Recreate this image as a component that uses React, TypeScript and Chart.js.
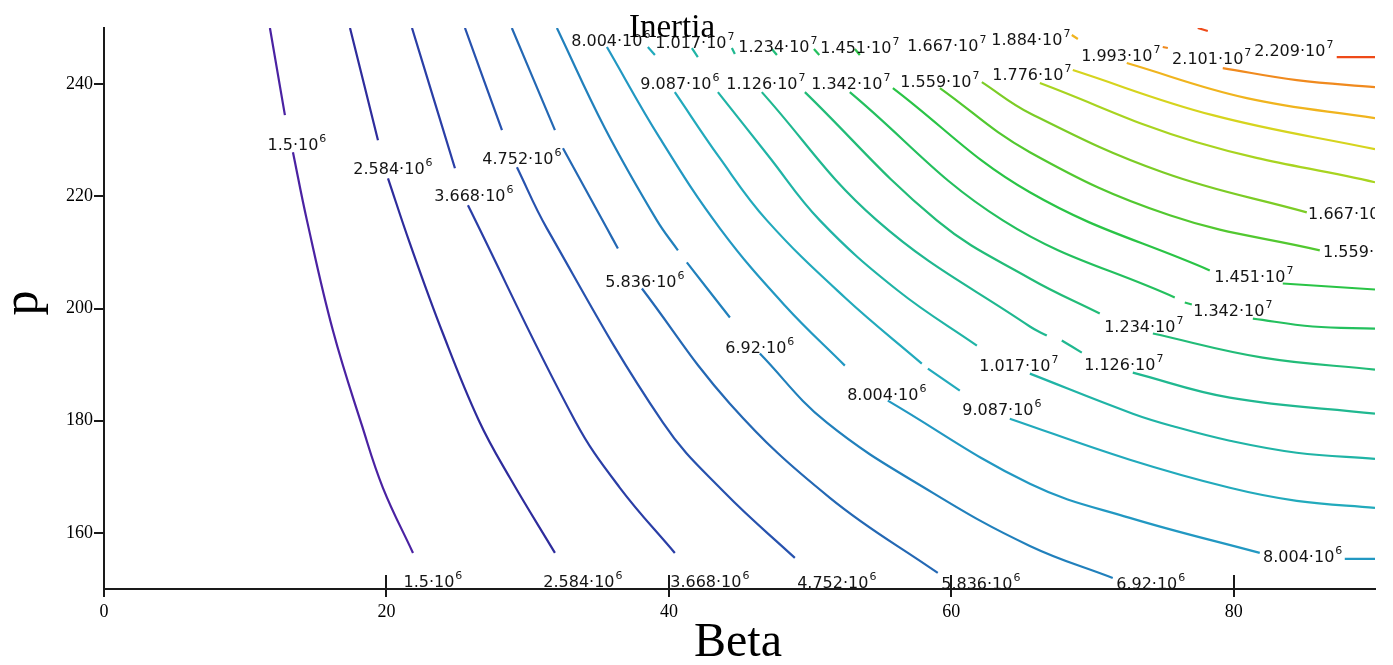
import React, { useEffect, useRef } from 'react';
import { Chart, registerables } from 'chart.js';

Chart.register(...registerables);

// Contour levels of Inertia
const LEVEL_MANTISSA = ['1.5', '2.584', '3.668', '4.752', '5.836', '6.92', '8.004', '9.087', '1.017', '1.126', '1.234', '1.342', '1.451', '1.559', '1.667', '1.776', '1.884', '1.993', '2.101', '2.209'];
const LEVEL_EXPONENT = ['6', '6', '6', '6', '6', '6', '6', '6', '7', '7', '7', '7', '7', '7', '7', '7', '7', '7', '7', '7'];
const LEVEL_COLORS = ['#4a22a2', '#2e2c9c', '#2a3ea6', '#2752ae', '#2468b4', '#2180bc', '#2298c2', '#22aabc', '#20b4a6', '#20b890', '#22bc78', '#24c05e', '#2ac446', '#52c830', '#7ccc26', '#a8d420', '#d6d41e', '#f0b41e', '#f08a1e', '#ee4a18'];

const X_TICKS = [0, 20, 40, 60, 80];
const Y_TICKS = [160, 180, 200, 220, 240];

// Contour lines: [Beta, p] points, null = break in the line
const C1 = [[11.75, 250], [12.81, 234.46], null, [13.38, 227.86], [14.37, 215.71], [16.21, 196.07], [18.27, 179.11], [19.75, 168.04], [21.88, 156.43]];
const C2 = [[17.42, 250], [19.4, 230.0], null, [20.11, 223.21], [21.66, 211.61], [24.0, 195.54], [26.55, 180.0], [28.74, 169.82], [31.93, 156.43]];
const C3 = [[21.81, 250], [24.85, 225.0], null, [25.77, 218.39], [33.35, 180.0], [36.53, 168.04], [40.42, 156.43]];
const C4 = [[25.56, 250], [28.18, 231.79], null, [29.24, 225.18], [31.36, 214.29], [39.58, 179.64], [43.96, 167.14], [48.92, 155.54]];
const C5 = [[28.88, 250], [31.93, 231.79], null, [32.5, 228.57], [35.61, 214.29], [36.39, 210.71], null, [38.09, 203.57], [44.32, 183.04], [51.4, 166.25], [59.04, 152.86]];
const C6 = [[32.07, 250], [35.47, 232.14], [39.15, 215.71], [40.64, 210.36], null, [41.27, 208.21], [44.32, 198.39], null, [46.44, 191.96], [51.19, 179.64], [58.69, 167.14], [65.56, 157.68], [71.43, 151.96]];
const C7 = [[35.61, 246.61], [39.36, 230.36], [43.61, 214.29], [48.21, 200.54], [52.46, 189.82], null, [55.5, 183.57], [65.56, 168.75], [72.64, 162.68], [81.84, 156.43], null, [87.86, 155.36], [90, 155.36]];
const C8 = [[38.51, 246.61], [39.01, 245.18], null, [40.42, 238.57], [43.61, 226.79], [46.94, 215.71], [52.46, 201.96], [57.91, 190.18], null, [58.34, 189.29], [60.6, 185.36], null, [64.14, 180.36], [72.64, 173.04], [79.72, 168.04], [84.46, 165.71], [90, 164.46]];
const C9 = [[41.63, 246.43], [42.05, 244.82], null, [43.47, 238.57], [47.01, 227.32], [50.69, 215.71], [56.21, 203.21], [61.81, 193.39], null, [65.56, 188.39], [72.85, 181.25], [75.82, 178.93], [79.72, 176.43], [84.46, 174.29], [90, 173.21]];
const C10 = [[44.46, 246.43], [44.67, 245.36], null, [46.58, 238.57], [54.73, 215.71], [65.56, 196.79], [66.76, 195.18], null, [67.82, 194.29], [69.24, 192.14], null, [72.85, 188.57], [79.72, 184.11], [90, 181.25]];
const C11 = [[47.29, 246.25], [47.65, 245.18], null, [49.63, 238.57], [58.97, 215.71], [65.56, 205.36], [70.51, 199.11], null, [74.27, 195.54], [82.05, 191.25], [90, 189.11]];
const C12 = [[50.27, 246.25], [50.65, 245.18], null, [52.81, 238.57], [63.65, 215.71], [75.82, 201.96], null, [76.53, 201.07], [77.03, 200.71], null, [81.35, 198.21], [85.59, 196.79], [90, 196.43]];
const C13 = [[53.17, 246.25], [53.52, 245.18], null, [55.86, 239.29], [65.56, 220.71], [78.3, 206.79], null, [83.47, 204.46], [90, 203.39]];
const C14 = [[59.19, 239.29], [65.56, 227.86], [75.47, 216.61], [86.09, 210.36]];
const C15 = [[62.16, 240.36], [65.56, 234.82], [74.97, 224.29], [85.17, 217.14]];
const C16 = [[66.27, 240.18], [77.38, 229.64], [90, 222.5]];
const C17 = [[68.6, 242.5], [78.51, 234.46], [90, 228.39]];
const C18 = [[68.53, 248.75], [68.96, 248.04], null, [72.42, 243.75], [80.92, 237.5], [90, 233.93]];
const C19 = [[74.97, 246.61], [75.33, 246.43], null, [79.22, 242.86], [84.46, 240.71], [90, 239.46]];
const C20 = [[77.45, 250], [78.16, 249.46], null, [87.29, 244.82], [90, 244.82]];
const CONTOURS = [C1, C2, C3, C4, C5, C6, C7, C8, C9, C10, C11, C12, C13, C14, C15, C16, C17, C18, C19, C20];

// Contour labels: level index, Beta, p (label centre)
const LABEL_LEVEL = [0, 1, 2, 3, 4, 5, 6, 7, 8, 9, 10, 11, 12, 13, 14, 0, 1, 2, 3, 4, 5, 6, 6, 8, 10, 12, 14, 16, 7, 9, 11, 13, 15, 17, 18, 19];
const LABEL_BETA = [13.66, 20.46, 26.19, 29.59, 38.3, 46.44, 55.43, 63.58, 64.78, 72.21, 73.63, 79.93, 81.42, 89.13, 88.07, 23.29, 33.91, 42.9, 51.89, 62.09, 74.12, 84.88, 35.89, 41.84, 47.72, 53.52, 59.68, 65.63, 40.78, 46.87, 52.88, 59.19, 65.7, 72.0, 78.44, 84.25];
const LABEL_P = [229.29, 225.0, 220.18, 226.79, 204.82, 193.21, 184.82, 182.14, 190.0, 190.18, 196.96, 199.82, 205.71, 210.18, 216.96, 151.43, 151.43, 151.43, 151.25, 151.07, 151.07, 155.89, 247.86, 247.5, 246.79, 246.61, 246.96, 248.04, 240.18, 240.18, 240.18, 240.54, 241.79, 245.18, 244.64, 246.07];

const TITLE = 'Inertia';
const X_TITLE = 'Beta';
const Y_TITLE = 'p';

const SERIF = '"Liberation Serif", "Times New Roman", serif';
const LABEL_FONT = '"DejaVu Sans", sans-serif';

const overlayPlugin = {
  id: 'contourOverlay',
  afterDatasetsDraw(chart: any) {
    const { ctx, chartArea, scales } = chart;
    const xs = scales.x;
    const ys = scales.y;
    ctx.save();
    ctx.beginPath();
    ctx.rect(chartArea.left, chartArea.top - 6, chartArea.right - chartArea.left, chartArea.bottom - chartArea.top + 8);
    ctx.clip();
    ctx.fillStyle = '#151515';
    ctx.textBaseline = 'alphabetic';
    ctx.textAlign = 'left';
    for (let i = 0; i < LABEL_LEVEL.length; i++) {
      const lev = LABEL_LEVEL[i];
      const px = xs.getPixelForValue(LABEL_BETA[i]);
      const py = ys.getPixelForValue(LABEL_P[i]);
      const main = LEVEL_MANTISSA[lev] + '\u00B710';
      const sup = LEVEL_EXPONENT[lev];
      ctx.font = '16px ' + LABEL_FONT;
      const wm = ctx.measureText(main).width;
      ctx.font = '11px ' + LABEL_FONT;
      const ws = ctx.measureText(sup).width;
      const left = px - (wm + ws + 1) / 2;
      ctx.font = '16px ' + LABEL_FONT;
      ctx.fillText(main, left, py + 6);
      ctx.font = '11px ' + LABEL_FONT;
      ctx.fillText(sup, left + wm + 1, py - 2);
    }
    ctx.restore();
  },
  afterDraw(chart: any) {
    const { ctx, chartArea, scales } = chart;
    const xs = scales.x;
    const ys = scales.y;
    ctx.save();
    ctx.strokeStyle = '#1a1a1a';
    ctx.lineWidth = 2;
    ctx.beginPath();
    for (const v of X_TICKS) {
      if (v === 0) continue;
      const px = Math.round(xs.getPixelForValue(v));
      ctx.moveTo(px, chartArea.bottom - 14);
      ctx.lineTo(px, chartArea.bottom + 8);
    }
    for (const v of Y_TICKS) {
      const py = Math.round(ys.getPixelForValue(v));
      ctx.moveTo(chartArea.left - 10, py);
      ctx.lineTo(chartArea.left, py);
    }
    ctx.moveTo(chartArea.left, chartArea.bottom);
    ctx.lineTo(chartArea.left, chartArea.bottom + 8);
    ctx.stroke();

    ctx.fillStyle = '#000';
    ctx.textAlign = 'center';
    ctx.textBaseline = 'alphabetic';
    ctx.font = '33px ' + SERIF;
    ctx.fillText(TITLE, 672, 37);
    ctx.font = '48px ' + SERIF;
    ctx.fillText(X_TITLE, 738, 656);
    ctx.translate(37, 303);
    ctx.rotate(-Math.PI / 2);
    ctx.font = '50px ' + SERIF;
    ctx.fillText(Y_TITLE, 0, 0);
    ctx.restore();
  },
};

export default function App() {
  const ref = useRef<HTMLCanvasElement>(null);
  useEffect(() => {
    document.body.style.margin = '0';
    const canvas = ref.current;
    if (!canvas) return;
    const datasets = CONTOURS.map((c, i) => ({
      label: LEVEL_MANTISSA[i] + '\u00B710^' + LEVEL_EXPONENT[i],
      data: c.map((pt) => (pt ? { x: pt[0], y: pt[1] } : { x: null, y: null })),
      borderColor: LEVEL_COLORS[i],
      backgroundColor: LEVEL_COLORS[i],
      borderWidth: 2.2,
      pointRadius: 0,
      fill: false,
      spanGaps: false,
      tension: 0.4,
      cubicInterpolationMode: 'default' as const,
    }));
    const chart = new Chart(canvas, {
      type: 'line',
      data: { datasets: datasets as any },
      options: {
        animation: false,
        responsive: false,
        devicePixelRatio: 1,
        events: [],
        layout: { padding: { top: 28, right: 18, left: 0, bottom: 0 } },
        plugins: {
          legend: { display: false },
          tooltip: { enabled: false },
          title: { display: false },
        },
        scales: {
          x: {
            type: 'linear',
            min: 0,
            max: 90,
            z: 1,
            afterBuildTicks: (s: any) => {
              s.ticks = X_TICKS.map((v) => ({ value: v }));
            },
            afterFit: (s: any) => {
              s.height = 76;
            },
            grid: { display: false, drawTicks: false },
            border: { display: true, color: '#1a1a1a', width: 2 },
            ticks: {
              color: '#000',
              font: { family: SERIF, size: 18 },
              padding: 12,
              maxRotation: 0,
              autoSkip: false,
            },
          },
          y: {
            type: 'linear',
            min: 150,
            max: 250,
            z: 1,
            afterBuildTicks: (s: any) => {
              s.ticks = Y_TICKS.map((v) => ({ value: v }));
            },
            afterFit: (s: any) => {
              s.width = 104;
            },
            grid: { display: false, drawTicks: false },
            border: { display: true, color: '#1a1a1a', width: 2 },
            ticks: {
              color: '#000',
              font: { family: SERIF, size: 18 },
              padding: 11,
              autoSkip: false,
            },
          },
        },
      },
      plugins: [overlayPlugin],
    });
    return () => chart.destroy();
  }, []);
  return (
    <div style={{ position: 'fixed', left: 0, top: 0, width: 1393, height: 665, background: '#fff' }}>
      <canvas ref={ref} width={1393} height={665} style={{ display: 'block' }} />
    </div>
  );
}
